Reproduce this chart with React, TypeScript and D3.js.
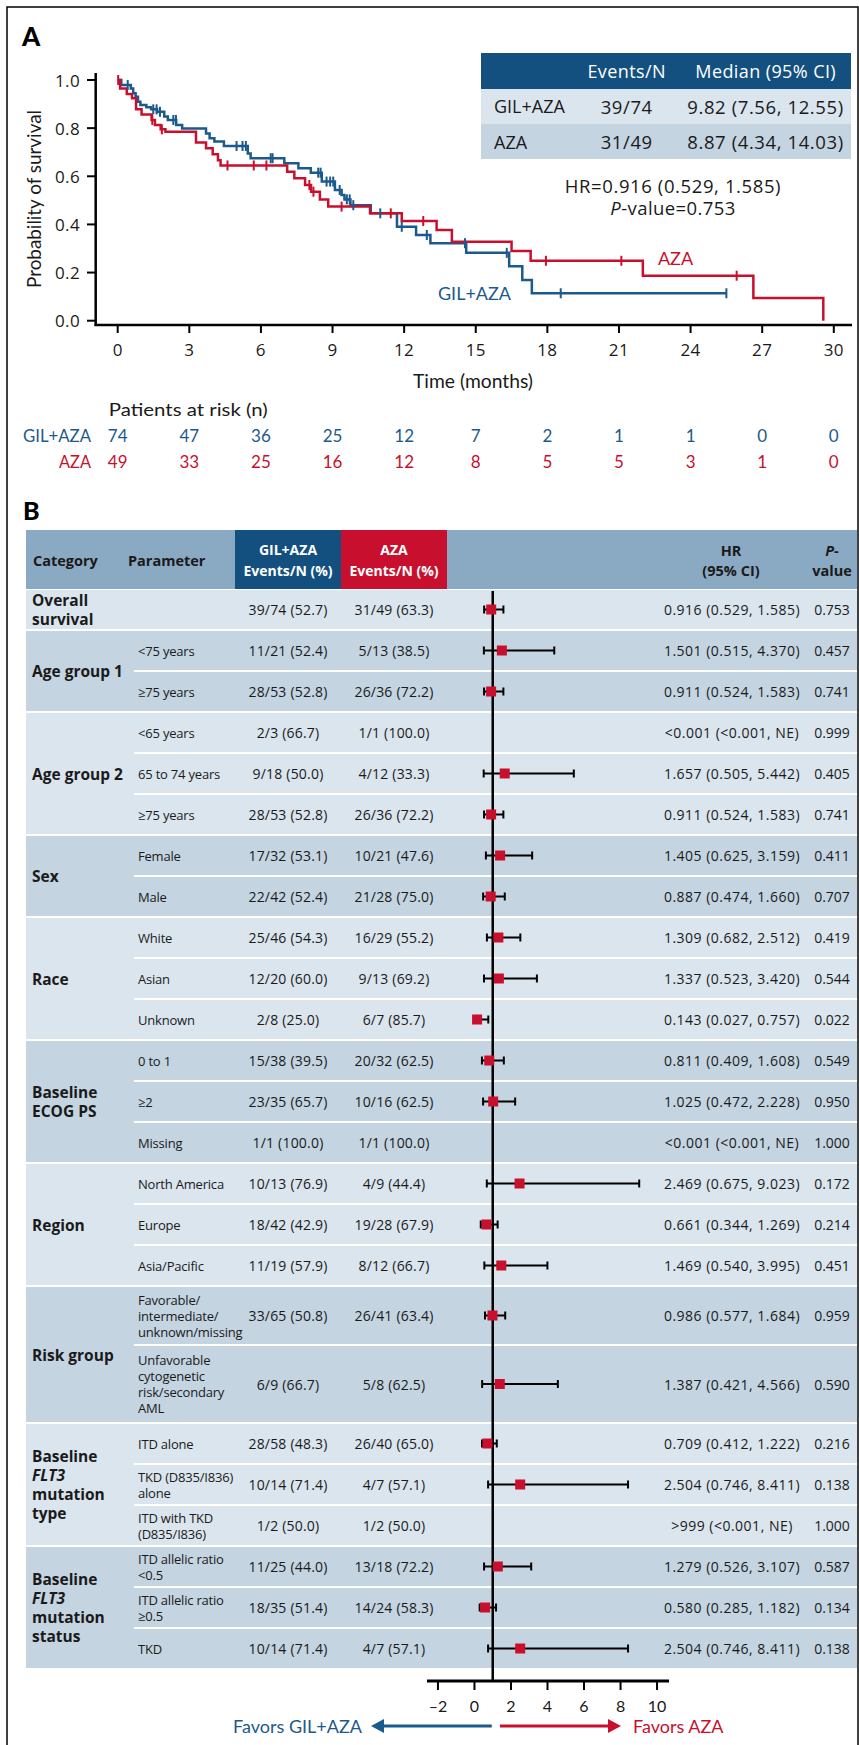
import React, { useEffect } from 'react';
import * as d3 from 'd3';

// ---- Panel A: Kaplan-Meier ----
const timeTicks = [0, 3, 6, 9, 12, 15, 18, 21, 24, 27, 30];
const survTicks = [0, 0.2, 0.4, 0.6, 0.8, 1.0];

// [time (months), survival after the drop]
const gilSteps: [number, number][] = [
  [0, 1.0], [0.15, 0.979], [0.55, 0.965], [0.65, 0.945], [0.75, 0.93], [0.85, 0.91],
  [0.95, 0.896], [1.2, 0.887], [1.4, 0.878], [1.65, 0.868], [1.95, 0.848], [2.1, 0.834],
  [2.45, 0.813], [2.7, 0.799], [3.7, 0.778], [3.85, 0.758], [4.05, 0.744], [4.45, 0.726],
  [5.45, 0.695], [5.57, 0.675], [6.98, 0.654], [7.57, 0.633], [8.09, 0.615], [8.55, 0.578],
  [9.1, 0.543], [9.38, 0.522], [9.5, 0.504], [9.75, 0.48], [10.6, 0.446], [11.7, 0.39],
  [12.5, 0.356], [13.1, 0.322], [14.6, 0.282], [16.4, 0.226], [16.95, 0.169], [17.35, 0.114],
];
const gilCensor = [0.42, 1.49, 1.63, 1.77, 2.33, 2.44, 4.98, 5.23, 5.37, 6.41, 6.49, 8.4, 8.5,
  8.75, 8.9, 9.03, 9.3, 9.6, 9.72, 9.87, 11.0, 11.9, 12.95, 14.55, 16.3, 18.56, 25.5];
const gilEnd = 25.5;

const azaSteps: [number, number][] = [
  [0, 1.0], [0.1, 0.965], [0.38, 0.942], [0.6, 0.924], [0.77, 0.878], [1.0, 0.857],
  [1.42, 0.834], [1.56, 0.813], [1.8, 0.795], [2.0, 0.785], [3.28, 0.74], [3.7, 0.716],
  [3.98, 0.692], [4.2, 0.667], [4.31, 0.645], [7.1, 0.619], [7.4, 0.592], [7.85, 0.564],
  [8.1, 0.536], [8.47, 0.504], [8.82, 0.474], [10.57, 0.446], [11.9, 0.414], [13.36, 0.377],
  [14.0, 0.328], [16.5, 0.29], [17.3, 0.249], [22.0, 0.187], [26.63, 0.094], [29.56, 0.0],
];
const azaCensor = [0.02, 1.45, 1.85, 4.6, 5.7, 6.23, 8.03, 8.2, 9.38, 11.44, 12.8, 17.94, 21.1, 25.93];

const riskGil = [74, 47, 36, 25, 12, 7, 2, 1, 1, 0, 0];
const riskAza = [49, 33, 25, 16, 12, 8, 5, 5, 3, 1, 0];

const legendArms = ['GIL+AZA', 'AZA'];
const legendEvents = ['39/74', '31/49'];
const legendMedians = ['9.82 (7.56, 12.55)', '8.87 (4.34, 14.03)'];

// ---- Panel B: forest plot ----
const groupLabels = [
  ['Overall', 'survival'], ['Age group 1'], ['Age group 2'], ['Sex'], ['Race'],
  ['Baseline', 'ECOG PS'], ['Region'], ['Risk group'],
  ['Baseline', 'FLT3', 'mutation', 'type'], ['Baseline', 'FLT3', 'mutation', 'status'],
];
const groupSizes = [1, 2, 3, 2, 3, 3, 3, 2, 3, 3];
const paramLabels = [
  [''], ['<75 years'], ['≥75 years'], ['<65 years'], ['65 to 74 years'], ['≥75 years'],
  ['Female'], ['Male'], ['White'], ['Asian'], ['Unknown'], ['0 to 1'], ['≥2'], ['Missing'],
  ['North America'], ['Europe'], ['Asia/Pacific'],
  ['Favorable/', 'intermediate/', 'unknown/missing'],
  ['Unfavorable', 'cytogenetic', 'risk/secondary', 'AML'],
  ['ITD alone'], ['TKD (D835/I836)', 'alone'], ['ITD with TKD', '(D835/I836)'],
  ['ITD allelic ratio', '<0.5'], ['ITD allelic ratio', '≥0.5'], ['TKD'],
];
const gilEvents = ['39/74 (52.7)', '11/21 (52.4)', '28/53 (52.8)', '2/3 (66.7)', '9/18 (50.0)',
  '28/53 (52.8)', '17/32 (53.1)', '22/42 (52.4)', '25/46 (54.3)', '12/20 (60.0)', '2/8 (25.0)',
  '15/38 (39.5)', '23/35 (65.7)', '1/1 (100.0)', '10/13 (76.9)', '18/42 (42.9)', '11/19 (57.9)',
  '33/65 (50.8)', '6/9 (66.7)', '28/58 (48.3)', '10/14 (71.4)', '1/2 (50.0)', '11/25 (44.0)',
  '18/35 (51.4)', '10/14 (71.4)'];
const azaEvents = ['31/49 (63.3)', '5/13 (38.5)', '26/36 (72.2)', '1/1 (100.0)', '4/12 (33.3)',
  '26/36 (72.2)', '10/21 (47.6)', '21/28 (75.0)', '16/29 (55.2)', '9/13 (69.2)', '6/7 (85.7)',
  '20/32 (62.5)', '10/16 (62.5)', '1/1 (100.0)', '4/9 (44.4)', '19/28 (67.9)', '8/12 (66.7)',
  '26/41 (63.4)', '5/8 (62.5)', '26/40 (65.0)', '4/7 (57.1)', '1/2 (50.0)', '13/18 (72.2)',
  '14/24 (58.3)', '4/7 (57.1)'];
const hrEst = [0.916, 1.501, 0.911, null, 1.657, 0.911, 1.405, 0.887, 1.309, 1.337, 0.143, 0.811,
  1.025, null, 2.469, 0.661, 1.469, 0.986, 1.387, 0.709, 2.504, null, 1.279, 0.580, 2.504];
const hrLow = [0.529, 0.515, 0.524, null, 0.505, 0.524, 0.625, 0.474, 0.682, 0.523, 0.027, 0.409,
  0.472, null, 0.675, 0.344, 0.540, 0.577, 0.421, 0.412, 0.746, null, 0.526, 0.285, 0.746];
const hrHigh = [1.585, 4.370, 1.583, null, 5.442, 1.583, 3.159, 1.660, 2.512, 3.420, 0.757, 1.608,
  2.228, null, 9.023, 1.269, 3.995, 1.684, 4.566, 1.222, 8.411, null, 3.107, 1.182, 8.411];
const hrLabels = ['0.916 (0.529, 1.585)', '1.501 (0.515, 4.370)', '0.911 (0.524, 1.583)',
  '<0.001 (<0.001, NE)', '1.657 (0.505, 5.442)', '0.911 (0.524, 1.583)', '1.405 (0.625, 3.159)',
  '0.887 (0.474, 1.660)', '1.309 (0.682, 2.512)', '1.337 (0.523, 3.420)', '0.143 (0.027, 0.757)',
  '0.811 (0.409, 1.608)', '1.025 (0.472, 2.228)', '<0.001 (<0.001, NE)', '2.469 (0.675, 9.023)',
  '0.661 (0.344, 1.269)', '1.469 (0.540, 3.995)', '0.986 (0.577, 1.684)', '1.387 (0.421, 4.566)',
  '0.709 (0.412, 1.222)', '2.504 (0.746, 8.411)', '>999 (<0.001, NE)', '1.279 (0.526, 3.107)',
  '0.580 (0.285, 1.182)', '2.504 (0.746, 8.411)'];
const pValues = ['0.753', '0.457', '0.741', '0.999', '0.405', '0.741', '0.411', '0.707', '0.419',
  '0.544', '0.022', '0.549', '0.950', '1.000', '0.172', '0.214', '0.451', '0.959', '0.590', '0.216',
  '0.138', '1.000', '0.587', '0.134', '0.138'];
const hrTicks = [-2, 0, 2, 4, 6, 8, 10];

const BLUE = '#1B5A8C';
const BLUE_H = '#13507F';
const RED = '#C8102E';
const INK = '#1a1a1a';
const F = "Lato, 'Noto Sans', sans-serif";
const FO = "'Open Sans', Lato, sans-serif";
const LIGHT = '#DBE5EE';
const DARK = '#C4D4E1';
const STEEL = '#8AA9C3';

function survAt(steps: [number, number][], t: number) {
  let s = steps[0][1];
  for (const [tt, v] of steps) if (tt <= t) s = v;
  return s;
}

export default function App() {
  useEffect(() => {
    document.body.style.margin = '0';
  }, []);

  const W = 859, H = 1745;
  const x = d3.scaleLinear().domain([0, 30]).range([117.7, 833.8]);
  const y = d3.scaleLinear().domain([0, 1]).range([320.7, 80]);
  const line = d3.line<[number, number]>().x(d => x(d[0])).y(d => y(d[1])).curve(d3.curveStepAfter);

  const gilPath = line([...gilSteps, [gilEnd, gilSteps[gilSteps.length - 1][1]]]) as string;
  const azaPath = line(azaSteps) as string;

  // forest layout
  const hx = d3.scaleLinear().domain([-2.6, 10.6]).range([427, 668]);
  const tableL = 26, tableR = 857, subL = 134;
  const rowH = paramLabels.map(p => Math.max(39, p.length * 19));
  const rowTop: number[] = [];
  let cy = 590;
  rowH.forEach(h => { rowTop.push(cy); cy += h + 2; });
  const groups: { top: number; bottom: number; start: number }[] = [];
  let ri = 0;
  groupSizes.forEach(n => {
    const top = rowTop[ri];
    const bottom = rowTop[ri + n - 1] + rowH[ri + n - 1];
    groups.push({ top, bottom, start: ri });
    ri += n;
  });
  const axisY = 1681;

  return (
    <svg width={W} height={H} style={{ display: 'block', background: '#fff' }} fontFamily={FO}>
      <rect x={7} y={7} width={851} height={H} fill="none" stroke="#000" strokeWidth={1.5} />

      {/* Panel A */}
      <text x={22} y={46} fontSize={26} fontWeight={900} fill="#000" fontFamily={F}>A</text>

      {/* axes */}
      <line x1={95.7} x2={95.7} y1={73} y2={326} stroke="#000" strokeWidth={2.5} />
      <line x1={94.5} x2={852} y1={325} y2={325} stroke="#000" strokeWidth={2.5} />
      {survTicks.map(v => (
        <g key={'ys' + v}>
          <line x1={87} x2={95.7} y1={y(v)} y2={y(v)} stroke="#000" strokeWidth={2} />
          <text x={80} y={y(v)} textAnchor="end" dominantBaseline="central" fontSize={17} fill={INK} letterSpacing={0.4}>{v.toFixed(1)}</text>
        </g>
      ))}
      {timeTicks.map(t => (
        <g key={'xt' + t}>
          <line x1={x(t)} x2={x(t)} y1={325} y2={333} stroke="#000" strokeWidth={2} />
          <text x={x(t)} y={349} textAnchor="middle" dominantBaseline="central" fontSize={17} fill={INK} letterSpacing={0.4}>{t}</text>
        </g>
      ))}
      <text x={473} y={380} textAnchor="middle" dominantBaseline="central" fontSize={20} fill={INK} fontFamily={F}
        textLength={120} lengthAdjust="spacingAndGlyphs">Time (months)</text>
      <text transform="translate(33,199) rotate(-90)" textAnchor="middle" dominantBaseline="central" fontSize={20} fill={INK} fontFamily={F}
        textLength={178} lengthAdjust="spacingAndGlyphs">Probability of survival</text>

      {/* curves */}
      <path d={gilPath} fill="none" stroke={BLUE} strokeWidth={2.5} />
      <path d={azaPath} fill="none" stroke={RED} strokeWidth={2.5} />
      {gilCensor.map((t, i) => (
        <line key={'gc' + i} x1={x(t)} x2={x(t)} y1={y(survAt(gilSteps, t)) - 5} y2={y(survAt(gilSteps, t)) + 5} stroke={BLUE} strokeWidth={2} />
      ))}
      {azaCensor.map((t, i) => (
        <line key={'ac' + i} x1={x(t)} x2={x(t)} y1={y(survAt(azaSteps, t)) - 5} y2={y(survAt(azaSteps, t)) + 5} stroke={RED} strokeWidth={2} />
      ))}
      <text x={675.5} y={258} textAnchor="middle" dominantBaseline="central" fontSize={18} fill={RED} fontFamily={F}>AZA</text>
      <text x={474.5} y={293} textAnchor="middle" dominantBaseline="central" fontSize={18} fill={BLUE} fontFamily={F}>GIL+AZA</text>

      {/* legend table */}
      <rect x={481} y={53} width={370} height={36} fill={BLUE_H} />
      <rect x={481} y={89} width={370} height={35} fill={LIGHT} />
      <rect x={481} y={124} width={370} height={35} fill={DARK} />
      <text x={626.7} y={71} textAnchor="middle" dominantBaseline="central" fontSize={18} fill="#fff" letterSpacing={0.4}>Events/N</text>
      <text x={765.7} y={71} textAnchor="middle" dominantBaseline="central" fontSize={18} fill="#fff" letterSpacing={0.4}>Median (95% CI)</text>
      {legendArms.map((a, i) => (
        <g key={'lg' + i}>
          <text x={494} y={106 + i * 35.5} dominantBaseline="central" fontSize={18} fill={INK}>{a}</text>
          <text x={626.7} y={106 + i * 35.5} textAnchor="middle" dominantBaseline="central" fontSize={18.5} fill={INK} letterSpacing={0.6}>{legendEvents[i]}</text>
          <text x={765.5} y={106 + i * 35.5} textAnchor="middle" dominantBaseline="central" fontSize={18.5} fill={INK} letterSpacing={0.6}>{legendMedians[i]}</text>
        </g>
      ))}
      <text x={673} y={185} textAnchor="middle" dominantBaseline="central" fontSize={18.5} fill={INK} letterSpacing={0.6}>HR=0.916 (0.529, 1.585)</text>
      <text x={673} y={207} textAnchor="middle" dominantBaseline="central" fontSize={18.5} fill={INK} letterSpacing={0.4}>
        <tspan fontStyle="italic">P</tspan>-value=0.753
      </text>

      {/* at risk */}
      <text x={108.8} y={409} dominantBaseline="central" fontSize={18} fill={INK} fontFamily={F}
        textLength={159} lengthAdjust="spacingAndGlyphs">Patients at risk (n)</text>
      <text x={91} y={435} textAnchor="end" dominantBaseline="central" fontSize={17} fill={BLUE} fontFamily={F}
        textLength={68} lengthAdjust="spacingAndGlyphs">GIL+AZA</text>
      <text x={91} y={461.7} textAnchor="end" dominantBaseline="central" fontSize={17} fill={RED} fontFamily={F}
        textLength={32} lengthAdjust="spacingAndGlyphs">AZA</text>
      {timeTicks.map((t, i) => (
        <g key={'rk' + t} fontFamily={F}>
          <text x={x(t)} y={435} textAnchor="middle" dominantBaseline="central" fontSize={17} fill={BLUE}>{riskGil[i]}</text>
          <text x={x(t)} y={461.7} textAnchor="middle" dominantBaseline="central" fontSize={17} fill={RED}>{riskAza[i]}</text>
        </g>
      ))}

      {/* Panel B */}
      <text x={23} y={520} fontSize={25} fontWeight={900} fill="#000" fontFamily={F}>B</text>

      {/* header */}
      <rect x={tableL} y={530} width={tableR - tableL} height={59} fill={STEEL} />
      <rect x={235} y={530} width={106} height={59} fill={BLUE_H} />
      <rect x={341} y={530} width={106} height={59} fill={RED} />
      <text x={33} y={560} dominantBaseline="central" fontSize={14.5} fontWeight={700} fill={INK}>Category</text>
      <text x={128} y={560} dominantBaseline="central" fontSize={14.5} fontWeight={700} fill={INK}>Parameter</text>
      <text x={288} y={549} textAnchor="middle" dominantBaseline="central" fontSize={14} fontWeight={700} fill="#fff">GIL+AZA</text>
      <text x={288} y={570} textAnchor="middle" dominantBaseline="central" fontSize={14} fontWeight={700} fill="#fff">Events/N (%)</text>
      <text x={394} y={549} textAnchor="middle" dominantBaseline="central" fontSize={14} fontWeight={700} fill="#fff">AZA</text>
      <text x={394} y={570} textAnchor="middle" dominantBaseline="central" fontSize={14} fontWeight={700} fill="#fff">Events/N (%)</text>
      <text x={731} y={550} textAnchor="middle" dominantBaseline="central" fontSize={14.5} fontWeight={700} fill={INK}>HR</text>
      <text x={731} y={570} textAnchor="middle" dominantBaseline="central" fontSize={14.5} fontWeight={700} fill={INK}>(95% CI)</text>
      <text x={832} y={550} textAnchor="middle" dominantBaseline="central" fontSize={14.5} fontWeight={700} fill={INK}>
        <tspan fontStyle="italic">P</tspan>-
      </text>
      <text x={832} y={570} textAnchor="middle" dominantBaseline="central" fontSize={14.5} fontWeight={700} fill={INK}>value</text>

      {/* groups */}
      {groups.map((g, gi) => (
        <g key={'g' + gi}>
          <rect x={tableL} y={g.top} width={tableR - tableL} height={g.bottom - g.top} fill={gi % 2 === 0 ? LIGHT : DARK} />
          {Array.from({ length: groupSizes[gi] - 1 }, (_, k) => {
            const r = g.start + k;
            const yy = rowTop[r] + rowH[r] + 1;
            return <line key={'sep' + k} x1={subL} x2={tableR} y1={yy} y2={yy} stroke="#fff" strokeWidth={2} />;
          })}
          {groupLabels[gi].map((l, li) => (
            <text key={'gl' + li} x={32} y={(g.top + g.bottom) / 2 + (li - (groupLabels[gi].length - 1) / 2) * 19}
              dominantBaseline="central" fontSize={15.5} fontWeight={700} fill={INK}
              fontStyle={l === 'FLT3' ? 'italic' : 'normal'}>{l}</text>
          ))}
        </g>
      ))}

      {/* rows */}
      {paramLabels.map((p, r) => {
        const c = rowTop[r] + rowH[r] / 2;
        return (
          <g key={'r' + r}>
            {p.map((l, li) => (
              <text key={'p' + li} x={138} y={c + (li - (p.length - 1) / 2) * 16} dominantBaseline="central" fontSize={13} letterSpacing={-0.2} fill={INK}>{l}</text>
            ))}
            <text x={288} y={c} textAnchor="middle" dominantBaseline="central" fontSize={14} letterSpacing={0.2} fill={INK}>{gilEvents[r]}</text>
            <text x={394} y={c} textAnchor="middle" dominantBaseline="central" fontSize={14} letterSpacing={0.2} fill={INK}>{azaEvents[r]}</text>
            <text x={732} y={c} textAnchor="middle" dominantBaseline="central" fontSize={14} letterSpacing={0.5} fill={INK}>{hrLabels[r]}</text>
            <text x={832} y={c} textAnchor="middle" dominantBaseline="central" fontSize={14} fill={INK}>{pValues[r]}</text>
          </g>
        );
      })}

      {/* reference line */}
      <line x1={hx(1)} x2={hx(1)} y1={591} y2={axisY} stroke="#000" strokeWidth={2.5} />

      {/* CIs and markers */}
      {paramLabels.map((_, r) => {
        const est = hrEst[r], lo = hrLow[r], hi = hrHigh[r];
        if (est === null || lo === null || hi === null) return null;
        const c = rowTop[r] + rowH[r] / 2;
        return (
          <g key={'ci' + r}>
            <line x1={hx(lo)} x2={hx(hi)} y1={c} y2={c} stroke="#000" strokeWidth={2} />
            <line x1={hx(lo)} x2={hx(lo)} y1={c - 4} y2={c + 4} stroke="#000" strokeWidth={2} />
            <line x1={hx(hi)} x2={hx(hi)} y1={c - 4} y2={c + 4} stroke="#000" strokeWidth={2} />
            <rect x={hx(est) - 5} y={c - 5} width={10} height={10} fill={RED} />
          </g>
        );
      })}

      {/* forest axis */}
      <line x1={427} x2={669} y1={axisY} y2={axisY} stroke="#000" strokeWidth={3} />
      {hrTicks.map(t => (
        <g key={'ht' + t}>
          <line x1={hx(t)} x2={hx(t)} y1={axisY} y2={axisY + 9} stroke="#000" strokeWidth={2} />
          <text x={hx(t)} y={1705} textAnchor="middle" dominantBaseline="central" fontSize={16} fill={INK} fontFamily={F}>
            {t < 0 ? '–' + Math.abs(t) : t}
          </text>
        </g>
      ))}
      <line x1={491.8} x2={382} y1={1726} y2={1726} stroke={BLUE} strokeWidth={3} />
      <polygon points="371,1726 384,1719 384,1733" fill={BLUE} />
      <line x1={500} x2={610} y1={1726} y2={1726} stroke={RED} strokeWidth={3} />
      <polygon points="621,1726 608,1719 608,1733" fill={RED} />
      <text x={362} y={1726} textAnchor="end" dominantBaseline="central" fontSize={18} fill={BLUE} fontFamily={F}>Favors GIL+AZA</text>
      <text x={633} y={1726} dominantBaseline="central" fontSize={18} fill={RED} fontFamily={F}>Favors AZA</text>
    </svg>
  );
}
